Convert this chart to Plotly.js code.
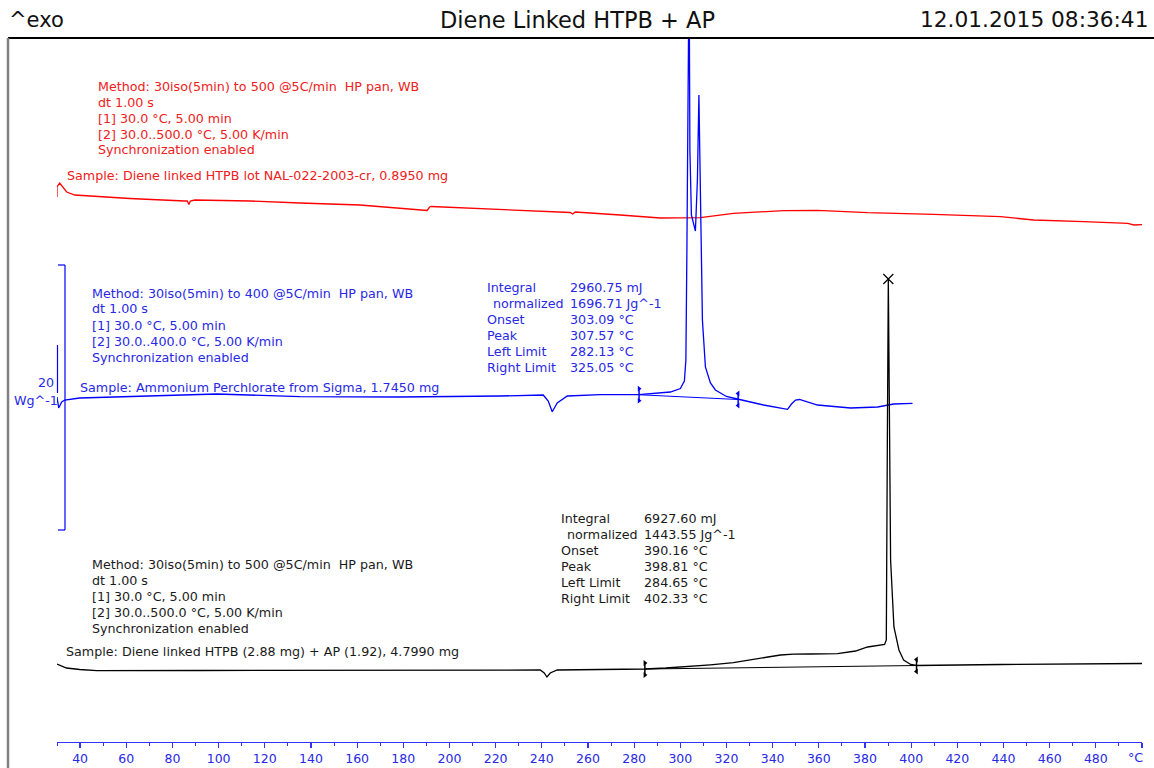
<!DOCTYPE html>
<html>
<head>
<meta charset="utf-8">
<script src="https://cdn.plot.ly/plotly-3.0.1.min.js"></script>
<style>html,body{margin:0;padding:0;background:#fff;}#chart{width:1154px;height:768px;}</style>
</head>
<body>
<div id="chart"></div>
<script>
// ---- data (temperature °C, displayed signal offset units) ----
var redT = [30.0, 30.0, 31.17, 32.47, 34.2, 37.68, 44.18, 61.53, 85.38, 86.46, 87.11, 87.76, 89.71, 113.56, 135.24, 161.26, 190.32, 191.4, 192.06, 221.98, 252.33, 253.42, 254.5, 273.99, 291.35, 308.69, 323.0, 344.68, 359.43, 381.11, 409.73, 438.78, 453.1, 474.78, 493.86, 496.46, 500.0];
var redY = [545, 555, 559, 555, 550, 547, 546, 543.5, 541, 541, 537.5, 541, 542, 541, 539, 537, 531.5, 535, 535.5, 532.5, 529.5, 528, 530, 527, 524, 524.3, 528.7, 531.3, 531.7, 529.3, 527.7, 525.3, 522, 520.3, 518.7, 517, 517.3];

var blueT = [30.0, 30.74, 32.04, 33.34, 39.84, 62.83, 99.25, 135.24, 178.61, 221.98, 240.62, 242.79, 244.53, 246.69, 251.03, 265.34, 282.04, 295.7, 300.04, 301.77, 302.42, 302.86, 303.2, 303.81, 304.16, 304.81, 306.54, 307.41, 308.06, 308.71, 309.58, 310.88, 313.05, 315.21, 319.98, 324.75, 336.03, 346.44, 348.17, 349.91, 351.64, 359.45, 373.76, 385.47, 392.41, 400.6];
var blueY = [345, 334, 340, 342, 344, 345.3, 348, 345.3, 345, 346, 347, 341, 330.3, 339, 346, 347.3, 347.3, 350, 353.5, 361, 382, 492, 780, 780, 592, 527, 511, 562, 647, 542, 422, 375, 359, 352, 345.5, 343, 337, 332.7, 338, 342, 342.5, 337, 334, 335, 338, 338.7];

var blackT = [30.0, 31.17, 34.08, 39.84, 47.22, 91.88, 135.24, 178.61, 221.98, 239.33, 241.06, 242.23, 243.66, 246.69, 265.34, 284.85, 293.67, 302.94, 313.0, 323.0, 332.54, 338.0, 343.4, 349.0, 356.41, 368.12, 375.93, 381.13, 388.5, 389.24, 389.67, 390.11, 390.54, 391.1, 392.54, 394.71, 396.74, 399.78, 402.38, 412.79, 438.78, 500.0];
var blackY = [78, 77, 74, 72.5, 71.3, 71.5, 71.5, 71.5, 72, 72, 69, 65, 69, 72, 72.5, 73, 74, 75.3, 77.2, 79.3, 82.5, 85, 87, 87.8, 88, 88.3, 91, 95, 97.5, 102, 292, 463, 342, 182, 115, 92, 82, 77.5, 76.5, 77, 77.5, 78.5];

// integration limits and baselines
var blueLimT = [282.13, 325.05];
var blueLimY = [347.3, 342.5];
var blackLimT = [284.65, 402.33];
var blackLimY = [73, 76.5];
var blackPeakT = [390.11];
var blackPeakY = [463];

// axis ticks
var tickVals = [40, 60, 80, 100, 120, 140, 160, 180, 200, 220, 240, 260, 280, 300, 320, 340, 360, 380, 400, 420, 440, 460, 480, 500];
var tickText = ['40', '60', '80', '100', '120', '140', '160', '180', '200', '220', '240', '260', '280', '300', '320', '340', '360', '380', '400', '420', '440', '460', '480', ''];

// text content
var headerLeft = '^exo';
var headerTitle = 'Diene Linked HTPB + AP';
var headerRight = '12.01.2015 08:36:41';
var redMethod = ['Method: 30iso(5min) to 500 @5C/min &nbsp;HP pan, WB', 'dt 1.00 s', '[1] 30.0 °C, 5.00 min', '[2] 30.0..500.0 °C, 5.00 K/min', 'Synchronization enabled'];
var redSample = 'Sample: Diene linked HTPB lot NAL-022-2003-cr, 0.8950 mg';
var blueMethod = ['Method: 30iso(5min) to 400 @5C/min &nbsp;HP pan, WB', 'dt 1.00 s', '[1] 30.0 °C, 5.00 min', '[2] 30.0..400.0 °C, 5.00 K/min', 'Synchronization enabled'];
var blueSample = 'Sample: Ammonium Perchlorate from Sigma, 1.7450 mg';
var blackMethod = ['Method: 30iso(5min) to 500 @5C/min &nbsp;HP pan, WB', 'dt 1.00 s', '[1] 30.0 °C, 5.00 min', '[2] 30.0..500.0 °C, 5.00 K/min', 'Synchronization enabled'];
var blackSample = 'Sample: Diene linked HTPB (2.88 mg) + AP (1.92), 4.7990 mg';
var tableLabels = ['Integral', 'normalized', 'Onset', 'Peak', 'Left Limit', 'Right Limit'];
var blueTableVals = ['2960.75 mJ', '1696.71 Jg^-1', '303.09 °C', '307.57 °C', '282.13 °C', '325.05 °C'];
var blackTableVals = ['6927.60 mJ', '1443.55 Jg^-1', '390.16 °C', '398.81 °C', '284.65 °C', '402.33 °C'];

// ---- layout helpers ----
var W = 1154, H = 768;
var L = 57, R = 12, T = 38, B = 26;
var PW = W - L - R, PH = H - T - B;
function px(x) { return (x - L) / PW; }
function py(y) { return (H - B - y) / PH; }
var FONT = 'DejaVu Sans, Verdana, sans-serif';
var HFONT = 'DejaVu Sans, Verdana, sans-serif';
var RED = '#ff0000', BLUE = '#0000ff', BLACK = '#000000';
var RED_T = '#f02020', BLUE_T = '#2828e6', BLACK_T = '#1a1a1a';
var FS = 12.7;

var annotations = [];
function txt(x, y, s, color, size, anchor, fam) {
  annotations.push({xref: 'paper', yref: 'paper', x: px(x), y: py(y), text: s, showarrow: false,
    xanchor: anchor || 'left', yanchor: 'middle', font: {family: fam || FONT, size: size, color: color}, borderpad: 0});
}
txt(8, 20, headerLeft, '#111', 21, 'left', HFONT);
txt(577, 20, headerTitle, '#111', 22.5, 'center', HFONT);
txt(1149, 20, headerRight, '#111', 21.7, 'right', HFONT);

function block(x, y0, lines, color) {
  for (var i = 0; i < lines.length; i++) txt(x, y0 + 16 * i, lines[i], color, FS, 'left');
}
block(97, 86, redMethod, RED_T);
txt(66, 175, redSample, RED_T, FS, 'left');
block(91, 293, blueMethod, BLUE_T);
txt(79, 387, blueSample, BLUE_T, FS, 'left');
block(91, 564, blackMethod, BLACK_T);
txt(65, 651, blackSample, BLACK_T, FS, 'left');

function table(xl, xv, y0, vals, color) {
  for (var i = 0; i < tableLabels.length; i++) {
    txt(xl + (i === 1 ? 6 : 0), y0 + 16 * i, tableLabels[i], color, FS, 'left');
    txt(xv, y0 + 16 * i, vals[i], color, FS, 'left');
  }
}
table(486, 569, 287, blueTableVals, BLUE_T);
table(560, 643, 518, blackTableVals, BLACK_T);

txt(55, 382, '20', BLUE_T, FS, 'right');
txt(59, 400, 'Wg^-1', BLUE_T, FS, 'right');
txt(1144, 757, '°C', BLUE_T, FS, 'right');

var shapes = [
  {type: 'line', xref: 'paper', yref: 'paper', x0: px(8), x1: px(1154), y0: py(38), y1: py(38), line: {color: '#000', width: 2}},
  {type: 'line', xref: 'paper', yref: 'paper', x0: px(8), x1: px(8), y0: py(38), y1: py(768), line: {color: '#808080', width: 2.5}},
  // scale bar
  {type: 'line', xref: 'paper', yref: 'paper', x0: px(65), x1: px(65), y0: py(265), y1: py(530), line: {color: BLUE, width: 1.2}},
  {type: 'line', xref: 'paper', yref: 'paper', x0: px(58), x1: px(65), y0: py(265), y1: py(265), line: {color: BLUE, width: 1.2}},
  {type: 'line', xref: 'paper', yref: 'paper', x0: px(58), x1: px(65), y0: py(530), y1: py(530), line: {color: BLUE, width: 1.2}},
  {type: 'line', xref: 'paper', yref: 'paper', x0: px(57.5), x1: px(57.5), y0: py(345), y1: py(393), line: {color: BLUE, width: 1.2}}
];

// ---- traces ----
var traces = [];
traces.push({x: redT, y: redY, mode: 'lines', line: {color: RED, width: 1.3}, hoverinfo: 'skip'});
traces.push({x: blueT, y: blueY, mode: 'lines', line: {color: BLUE, width: 1.3}, hoverinfo: 'skip'});
traces.push({x: blackT, y: blackY, mode: 'lines', line: {color: BLACK, width: 1.3}, hoverinfo: 'skip'});
// baselines
traces.push({x: blueLimT, y: blueLimY, mode: 'lines', line: {color: BLUE, width: 1.1}, hoverinfo: 'skip'});
traces.push({x: blackLimT, y: blackLimY, mode: 'lines', line: {color: BLACK, width: 1.1}, hoverinfo: 'skip'});
// limit markers
function limMarker(t, y, color, sym) {
  traces.push({x: [t, t], y: [y + 6, y - 6], mode: 'lines+markers', line: {color: color, width: 1.5},
    marker: {symbol: sym, size: 5, color: color}, hoverinfo: 'skip'});
}
limMarker(blueLimT[0], blueLimY[0], BLUE, 'triangle-right');
limMarker(blueLimT[1], blueLimY[1], BLUE, 'triangle-left');
limMarker(blackLimT[0], blackLimY[0], BLACK, 'triangle-right');
limMarker(blackLimT[1], blackLimY[1], BLACK, 'triangle-left');
traces.push({x: blackPeakT, y: blackPeakY, mode: 'markers', marker: {symbol: 'x-thin-open', size: 10, color: BLACK, line: {width: 1.2, color: BLACK}}, hoverinfo: 'skip'});

var layout = {
  width: W, height: H,
  margin: {l: L, r: R, t: T, b: B, pad: 0},
  paper_bgcolor: '#fff', plot_bgcolor: '#fff',
  showlegend: false,
  xaxis: {range: [30, 500], showgrid: false, zeroline: false, showline: true, linecolor: '#3333ff', linewidth: 1.2,
    ticks: 'outside', ticklen: 5, tickcolor: '#3333ff', tickwidth: 1.2, tickmode: 'array', tickvals: tickVals, ticktext: tickText,
    tickfont: {family: FONT, size: 12.5, color: BLUE_T},
    minor: {tickmode: 'linear', tick0: 0, dtick: 10, ticklen: 3, tickcolor: '#3333ff', tickwidth: 1, showgrid: false}},
  yaxis: {range: [0, PH], visible: false, showgrid: false, zeroline: false},
  annotations: annotations,
  shapes: shapes
};
Plotly.newPlot('chart', traces, layout, {staticPlot: true, displayModeBar: false});
</script>
</body>
</html>
